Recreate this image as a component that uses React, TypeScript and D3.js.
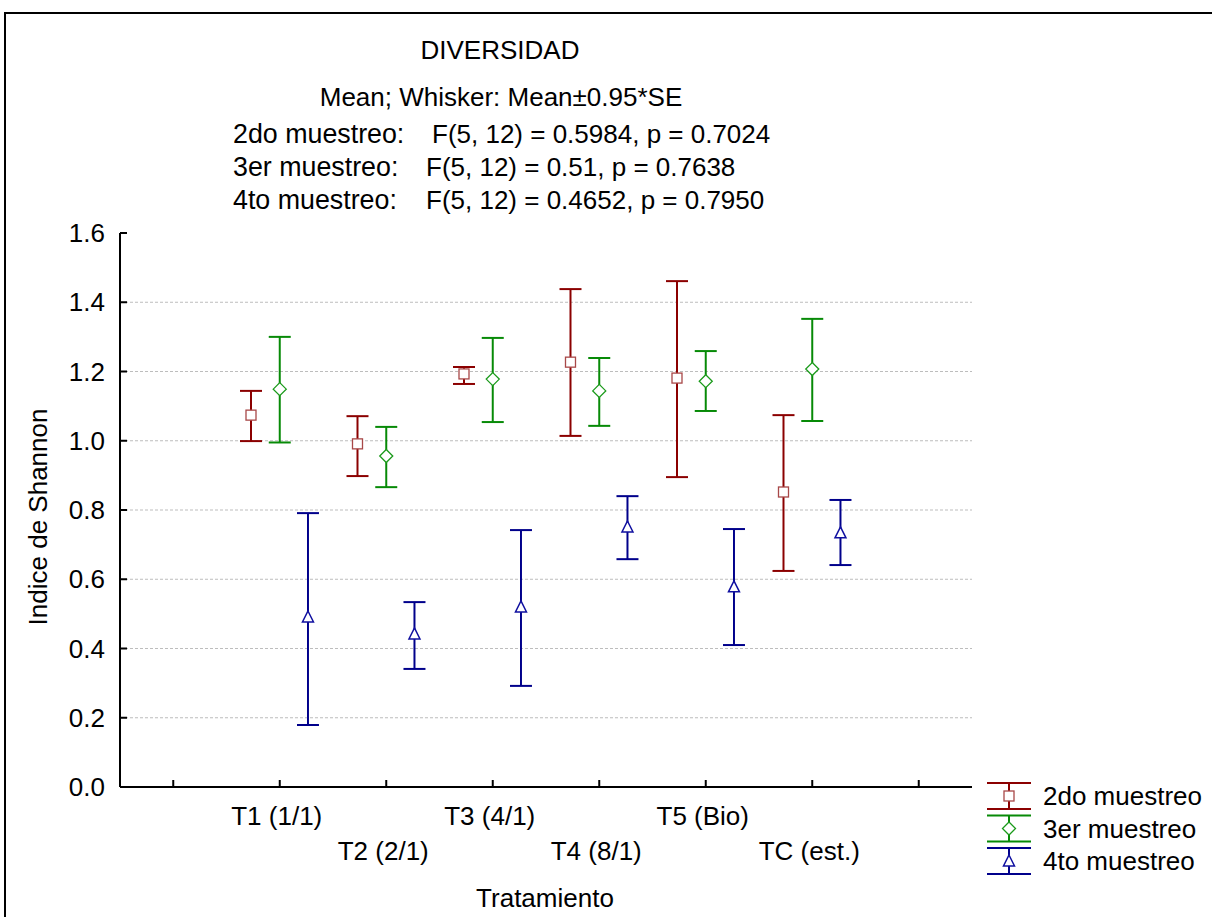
import React from "react";
import * as d3 from "d3";

const categories = ["T1 (1/1)", "T2 (2/1)", "T3 (4/1)", "T4 (8/1)", "T5 (Bio)", "TC (est.)"];
const seriesNames = ["2do muestreo", "3er muestreo", "4to muestreo"];
const seriesColors = ["#8b0000", "#078a07", "#00008b"];
const markerStroke = ["#a84848", "#1a9a1a", "#1010a0"];
const mean2 = [1.074, 0.991, 1.193, 1.227, 1.181, 0.852];
const lo2 = [0.999, 0.898, 1.164, 1.014, 0.895, 0.624];
const hi2 = [1.144, 1.071, 1.213, 1.438, 1.461, 1.074];
const mean3 = [1.149, 0.956, 1.178, 1.144, 1.172, 1.207];
const lo3 = [0.995, 0.866, 1.054, 1.043, 1.086, 1.057];
const hi3 = [1.30, 1.04, 1.297, 1.239, 1.259, 1.352];
const mean4 = [0.491, 0.442, 0.520, 0.751, 0.578, 0.734];
const lo4 = [0.179, 0.341, 0.292, 0.658, 0.41, 0.641];
const hi4 = [0.791, 0.534, 0.742, 0.840, 0.745, 0.829];
const yTicks = [0, 0.2, 0.4, 0.6, 0.8, 1.0, 1.2, 1.4, 1.6];
const gridTicks = [0.2, 0.4, 0.6, 0.8, 1.0, 1.2, 1.4];
const xTicks = [0, 1, 2, 3, 4, 5, 6, 7];
const offsets = [-0.27, 0, 0.265];
const titleLines = ["DIVERSIDAD", "Mean; Whisker: Mean±0.95*SE"];
const statLabels = ["2do muestreo:", "3er muestreo:", "4to muestreo:"];
const statTexts = [
  "F(5, 12) = 0.5984, p = 0.7024",
  "F(5, 12) = 0.51, p = 0.7638",
  "F(5, 12) = 0.4652, p = 0.7950",
];

const FONT = "'Liberation Sans', Arial, sans-serif";
const FS = 26;

function Marker({ kind, x, y, color }: { kind: number; x: number; y: number; color: string }) {
  if (kind === 0) return <rect x={x - 5} y={y - 5} width={10} height={10} fill="#fff" stroke={color} strokeWidth={1.3} />;
  if (kind === 1)
    return <path d={`M${x},${y - 6.5}L${x + 6.5},${y}L${x},${y + 6.5}L${x - 6.5},${y}Z`} fill="#fff" stroke={color} strokeWidth={1.3} />;
  return <path d={`M${x},${y - 6}L${x + 5.5},${y + 5}L${x - 5.5},${y + 5}Z`} fill="#fff" stroke={color} strokeWidth={1.5} />;
}

export default function App() {
  const left = 120, right = 972, top = 233, bottom = 787;
  const x = d3.scaleLinear().domain([-0.5, 7.5]).range([left, right]);
  const y = d3.scaleLinear().domain([0, 1.6]).range([bottom, top]);
  const series = [
    { mean: mean2, lo: lo2, hi: hi2 },
    { mean: mean3, lo: lo3, hi: hi3 },
    { mean: mean4, lo: lo4, hi: hi4 },
  ];
  const cap = 11;
  return (
    <svg width={1212} height={917} style={{ position: "absolute", left: 0, top: 0, fontFamily: FONT }}>
      <rect x={0} y={0} width={1212} height={917} fill="#fff" />
      <path d="M5,917V13H1212" fill="none" stroke="#000" strokeWidth={2} />
      <text x={500} y={59} textAnchor="middle" fontSize={FS}>{titleLines[0]}</text>
      <text x={501} y={106} textAnchor="middle" fontSize={FS}>{titleLines[1]}</text>
      {statLabels.map((s, i) => (
        <g key={i}>
          <text x={233} y={143 + i * 33} fontSize={26.8}>{s}</text>
          <text x={i === 0 ? 432 : 426} y={143 + i * 33} fontSize={FS}>{statTexts[i]}</text>
        </g>
      ))}
      {gridTicks.map((t) => (
        <line key={t} x1={left} x2={right} y1={y(t)} y2={y(t)} stroke="#bdbdbd" strokeWidth={1} strokeDasharray="3,2" />
      ))}
      <line x1={left} x2={left} y1={top} y2={bottom} stroke="#000" strokeWidth={2} />
      <line x1={left} x2={right} y1={bottom} y2={bottom} stroke="#000" strokeWidth={2} />
      {yTicks.map((t) => (
        <g key={t}>
          <line x1={left} x2={left + 7} y1={y(t)} y2={y(t)} stroke="#000" strokeWidth={2} />
          <text x={105} y={y(t) + 9} textAnchor="end" fontSize={FS}>{d3.format(".1f")(t)}</text>
        </g>
      ))}
      {xTicks.map((t) => (
        <line key={t} x1={x(t)} x2={x(t)} y1={bottom} y2={bottom - 7} stroke="#000" strokeWidth={2} />
      ))}
      {categories.map((c, i) => (
        <text key={c} x={x(i + 1) - 3} y={i % 2 === 0 ? 825 : 860} textAnchor="middle" fontSize={FS}>{c}</text>
      ))}
      <text x={545} y={907} textAnchor="middle" fontSize={FS}>Tratamiento</text>
      <text transform={`translate(47,517) rotate(-90)`} textAnchor="middle" fontSize={FS}>Indice de Shannon</text>
      {series.map((s, si) =>
        categories.map((_, i) => {
          const cx = x(i + 1 + offsets[si]);
          return (
            <g key={`${si}-${i}`}>
              <line x1={cx} x2={cx} y1={y(s.hi[i])} y2={y(s.lo[i])} stroke={seriesColors[si]} strokeWidth={2} />
              <line x1={cx - cap} x2={cx + cap} y1={y(s.hi[i])} y2={y(s.hi[i])} stroke={seriesColors[si]} strokeWidth={2} />
              <line x1={cx - cap} x2={cx + cap} y1={y(s.lo[i])} y2={y(s.lo[i])} stroke={seriesColors[si]} strokeWidth={2} />
              <Marker kind={si} x={cx} y={y(s.mean[i])} color={markerStroke[si]} />
            </g>
          );
        })
      )}
      {seriesNames.map((n, i) => {
        const cy = 796 + i * 32.5;
        const lx = 1009;
        return (
          <g key={n}>
            <line x1={lx} x2={lx} y1={cy - 13} y2={cy + 13} stroke={seriesColors[i]} strokeWidth={2} />
            <line x1={987} x2={1031} y1={cy - 13} y2={cy - 13} stroke={seriesColors[i]} strokeWidth={2} />
            <line x1={987} x2={1031} y1={cy + 13} y2={cy + 13} stroke={seriesColors[i]} strokeWidth={2} />
            <Marker kind={i} x={lx} y={cy} color={markerStroke[i]} />
            <text x={1043} y={cy + 9} fontSize={FS}>{n}</text>
          </g>
        );
      })}
    </svg>
  );
}
